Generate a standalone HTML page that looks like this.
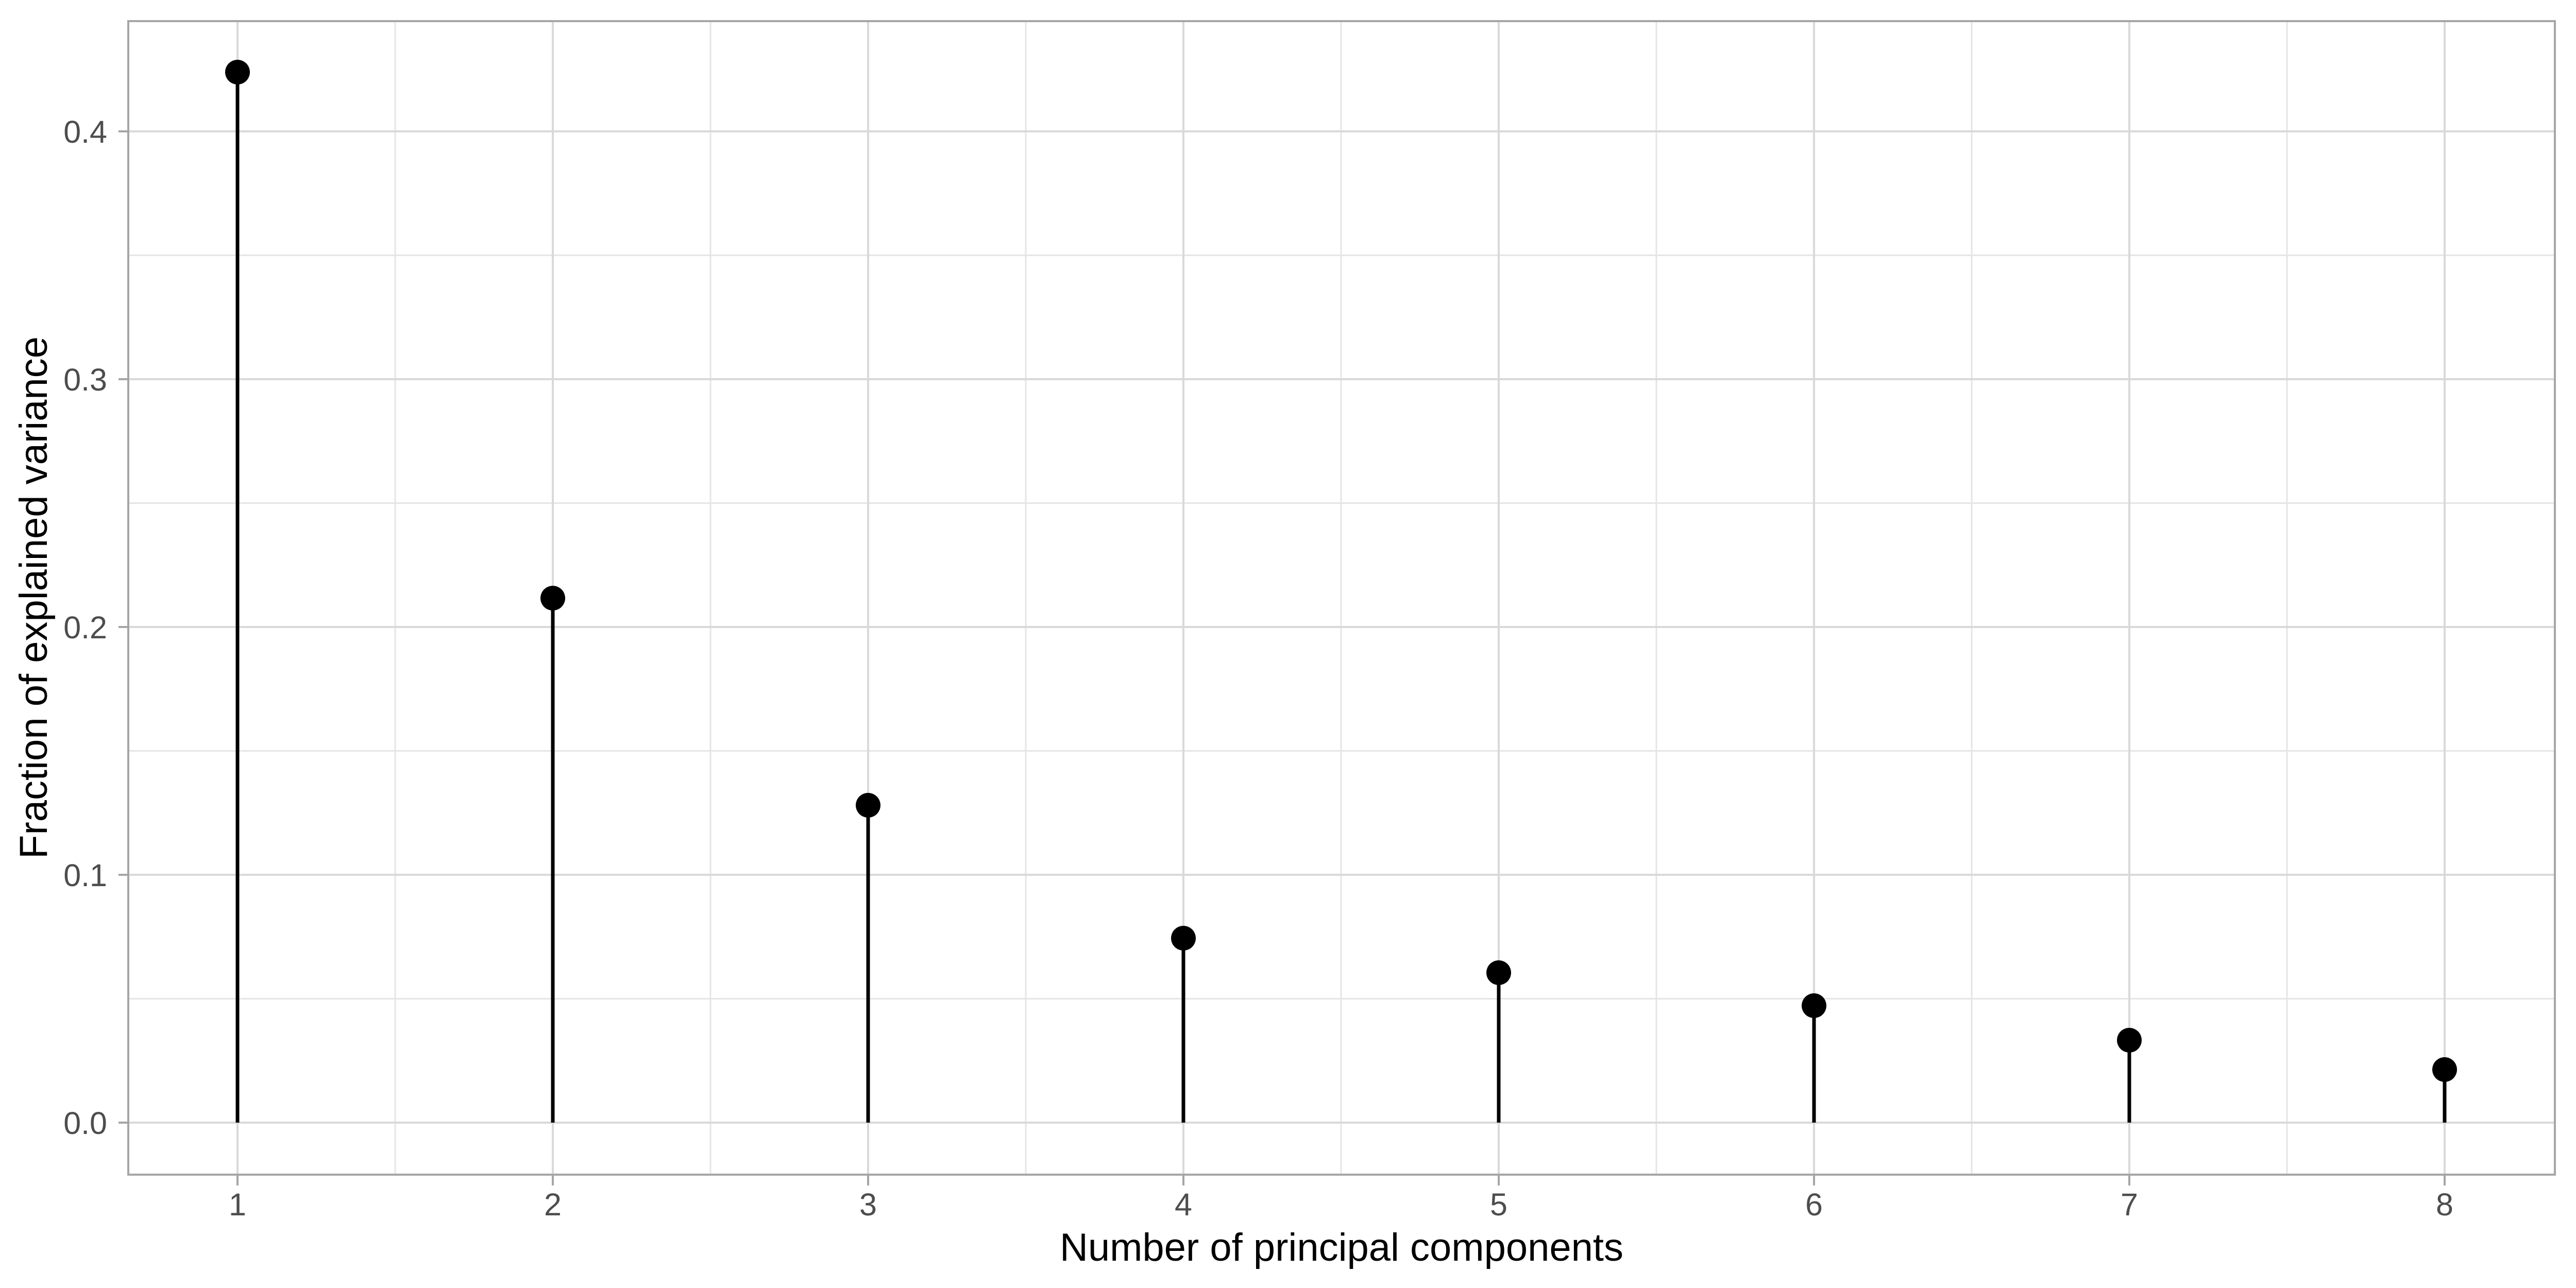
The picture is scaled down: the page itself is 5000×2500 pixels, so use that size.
<!DOCTYPE html>
<html><head><meta charset="utf-8"><style>html,body{margin:0;padding:0;background:#fff;}svg{display:block;}</style></head>
<body>
<svg width="5000" height="2500" viewBox="0 0 5000 2500" xmlns="http://www.w3.org/2000/svg" font-family="Liberation Sans, Arial, sans-serif">
<rect width="5000" height="2500" fill="#fff"/>
<g stroke="#e5e5e5" stroke-width="3">
<line x1="249" x2="4959" y1="1938.5" y2="1938.5"/>
<line x1="249" x2="4959" y1="1457.5" y2="1457.5"/>
<line x1="249" x2="4959" y1="976.5" y2="976.5"/>
<line x1="249" x2="4959" y1="495.5" y2="495.5"/>
<line y1="41" y2="2280" x1="767" x2="767"/>
<line y1="41" y2="2280" x1="1379" x2="1379"/>
<line y1="41" y2="2280" x1="1991" x2="1991"/>
<line y1="41" y2="2280" x1="2603" x2="2603"/>
<line y1="41" y2="2280" x1="3215" x2="3215"/>
<line y1="41" y2="2280" x1="3827" x2="3827"/>
<line y1="41" y2="2280" x1="4439" x2="4439"/>
</g>
<g stroke="#d9d9d9" stroke-width="4">
<line x1="249" x2="4959" y1="2179" y2="2179"/>
<line x1="249" x2="4959" y1="1698" y2="1698"/>
<line x1="249" x2="4959" y1="1217" y2="1217"/>
<line x1="249" x2="4959" y1="736" y2="736"/>
<line x1="249" x2="4959" y1="255" y2="255"/>
<line y1="41" y2="2280" x1="461" x2="461"/>
<line y1="41" y2="2280" x1="1073" x2="1073"/>
<line y1="41" y2="2280" x1="1685" x2="1685"/>
<line y1="41" y2="2280" x1="2297" x2="2297"/>
<line y1="41" y2="2280" x1="2909" x2="2909"/>
<line y1="41" y2="2280" x1="3521" x2="3521"/>
<line y1="41" y2="2280" x1="4133" x2="4133"/>
<line y1="41" y2="2280" x1="4745" x2="4745"/>
</g>
<g stroke="#000" stroke-width="7">
<line x1="461" x2="461" y1="2179" y2="140"/>
<line x1="1073" x2="1073" y1="2179" y2="1161"/>
<line x1="1685" x2="1685" y1="2179" y2="1563"/>
<line x1="2297" x2="2297" y1="2179" y2="1821"/>
<line x1="2909" x2="2909" y1="2179" y2="1888"/>
<line x1="3521" x2="3521" y1="2179" y2="1952"/>
<line x1="4133" x2="4133" y1="2179" y2="2019"/>
<line x1="4745" x2="4745" y1="2179" y2="2076"/>
</g>
<g fill="#000">
<circle cx="461" cy="140" r="24"/>
<circle cx="1073" cy="1161" r="24"/>
<circle cx="1685" cy="1563" r="24"/>
<circle cx="2297" cy="1821" r="24"/>
<circle cx="2909" cy="1888" r="24"/>
<circle cx="3521" cy="1952" r="24"/>
<circle cx="4133" cy="2019" r="24"/>
<circle cx="4745" cy="2076" r="24"/>
</g>
<rect x="249" y="41" width="4710" height="2239" fill="none" stroke="#a6a6a6" stroke-width="4"/>
<g stroke="#a6a6a6" stroke-width="4">
<line x1="230" x2="249" y1="2179" y2="2179"/>
<line x1="230" x2="249" y1="1698" y2="1698"/>
<line x1="230" x2="249" y1="1217" y2="1217"/>
<line x1="230" x2="249" y1="736" y2="736"/>
<line x1="230" x2="249" y1="255" y2="255"/>
<line y1="2280" y2="2301" x1="461" x2="461"/>
<line y1="2280" y2="2301" x1="1073" x2="1073"/>
<line y1="2280" y2="2301" x1="1685" x2="1685"/>
<line y1="2280" y2="2301" x1="2297" x2="2297"/>
<line y1="2280" y2="2301" x1="2909" x2="2909"/>
<line y1="2280" y2="2301" x1="3521" x2="3521"/>
<line y1="2280" y2="2301" x1="4133" x2="4133"/>
<line y1="2280" y2="2301" x1="4745" x2="4745"/>
</g>
<g fill="#4d4d4d" font-size="61" text-anchor="end">
<text x="208" y="2201">0.0</text>
<text x="208" y="1720">0.1</text>
<text x="208" y="1239">0.2</text>
<text x="208" y="758">0.3</text>
<text x="208" y="277">0.4</text>
</g>
<g fill="#4d4d4d" font-size="61" text-anchor="middle">
<text x="461" y="2359">1</text>
<text x="1073" y="2359">2</text>
<text x="1685" y="2359">3</text>
<text x="2297" y="2359">4</text>
<text x="2909" y="2359">5</text>
<text x="3521" y="2359">6</text>
<text x="4133" y="2359">7</text>
<text x="4745" y="2359">8</text>
</g>
<text x="2604" y="2447" font-size="76" text-anchor="middle" fill="#000">Number of principal components</text>
<text transform="translate(91,1160) rotate(-90)" font-size="76" text-anchor="middle" fill="#000">Fraction of explained variance</text>
</svg>
</body></html>
